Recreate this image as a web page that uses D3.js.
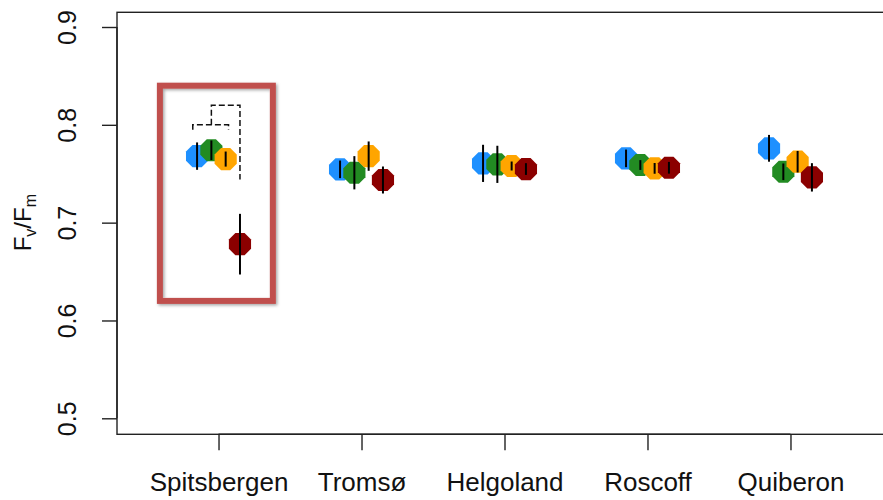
<!DOCTYPE html>
<html>
<head>
<meta charset="utf-8">
<script src="https://cdn.jsdelivr.net/npm/d3@7"></script>
<style>
  html, body { margin: 0; padding: 0; background: #fff; }
  svg { display: block; }
  text { font-family: "Liberation Sans", Arial, sans-serif; fill: #111; }
</style>
</head>
<body>
<svg id="chart" width="883" height="500"></svg>
<script>
// ---- data ----
const sites = ["Spitsbergen", "Tromsø", "Helgoland", "Roscoff", "Quiberon"];
const seriesNames = ["s1", "s2", "s3", "s4"];
const seriesColors = ["#1E90FF", "#228B22", "#FFA500", "#8B0000"];
const means = [
  [0.768, 0.774, 0.765, 0.678],   // Spitsbergen
  [0.7545, 0.751, 0.768, 0.7436], // Tromsø
  [0.7606, 0.7596, 0.7579, 0.7548], // Helgoland
  [0.7657, 0.7589, 0.7555, 0.7561], // Roscoff
  [0.776, 0.752, 0.7623, 0.7463]  // Quiberon
];
const errors = [
  [0.014, 0.010, 0.0077, 0.031],
  [0.009, 0.017, 0.015, 0.0138],
  [0.019, 0.019, 0.0046, 0.006],
  [0.009, 0.005, 0.0055, 0.006],
  [0.0137, 0.0085, 0.011, 0.0145]
];
const yTicks = [0.5, 0.6, 0.7, 0.8, 0.9];
const seriesOffsets = [-0.15, -0.05, 0.05, 0.15];
// significance brackets (Spitsbergen), in data units
const bracketSmall = { from: -0.18, to: 0.07, y: 0.800, legs: [0.795, 0.795] };
const bracketBig = { from: -0.05, to: 0.15, y: 0.820, legs: [0.800, 0.744] };
const highlight = { from: -0.41, to: 0.38, top: 0.84, bottom: 0.62 };

// ---- scales ----
const svg = d3.select("#chart");
const x = d3.scaleLinear().domain([0.29, 5.71]).range([117, 892]);
const y = d3.scaleLinear().domain([0.5, 0.9]).range([418.3, 27]);
const plotTop = 12.3, plotBottom = 434.3, plotLeft = 117, plotRight = 892;

// plot box
svg.append("rect")
  .attr("x", plotLeft).attr("y", plotTop)
  .attr("width", plotRight - plotLeft).attr("height", plotBottom - plotTop)
  .attr("fill", "none").attr("stroke", "#222").attr("stroke-width", 1.4);

// y axis
const yAxis = d3.axisLeft(y).tickValues(yTicks).tickFormat(d3.format(".1f"))
  .tickSize(15).tickPadding(0);
const gy = svg.append("g").attr("transform", `translate(${plotLeft},0)`).call(yAxis);
gy.select(".domain").attr("d", `M0,${y(0.5)}V${y(0.9)}`).attr("stroke", "#222").attr("stroke-width", 1.4);
gy.selectAll(".tick line").attr("stroke", "#222").attr("stroke-width", 1.4);
gy.selectAll(".tick text")
  .attr("x", null)
  .attr("text-anchor", "middle")
  .attr("transform", "translate(-50,0) rotate(-90)")
  .attr("dy", "0.35em")
  .style("font-size", "25px").style("font-family", "Liberation Sans, Arial, sans-serif")
  .attr("fill", "#111");

// x axis
const xAxis = d3.axisBottom(x).tickValues(d3.range(1, sites.length + 1))
  .tickFormat(i => sites[i - 1]).tickSize(16).tickPadding(0);
const gx = svg.append("g").attr("transform", `translate(0,${plotBottom})`).call(xAxis);
gx.select(".domain").attr("d", `M${x(1)},0H${x(5)}`).attr("stroke", "#222").attr("stroke-width", 1.4);
gx.selectAll(".tick line").attr("stroke", "#222").attr("stroke-width", 1.4);
gx.selectAll(".tick text")
  .attr("y", 57).attr("dy", null)
  .style("font-size", "26px").style("font-family", "Liberation Sans, Arial, sans-serif")
  .attr("fill", "#111");

// y label
const ylab = svg.append("text")
  .attr("transform", `translate(31,${y(0.7)}) rotate(-90)`)
  .attr("text-anchor", "middle")
  .style("font-size", "24px");
ylab.append("tspan").text("F");
ylab.append("tspan").text("v").attr("dy", 5).style("font-size", "16px");
ylab.append("tspan").text("/").attr("dy", -5);
ylab.append("tspan").text("F");
ylab.append("tspan").text("m").attr("dy", 5).style("font-size", "16px");

// highlight rectangle with shadow
const defs = svg.append("defs");
const f = defs.append("filter").attr("id", "shadow").attr("x", "-20%").attr("y", "-20%").attr("width", "140%").attr("height", "140%");
f.append("feDropShadow").attr("dx", 1.5).attr("dy", 1.5).attr("stdDeviation", 1.5)
  .attr("flood-color", "#000").attr("flood-opacity", 0.35);
svg.append("rect")
  .attr("x", x(1 + highlight.from)).attr("y", y(highlight.top))
  .attr("width", x(1 + highlight.to) - x(1 + highlight.from))
  .attr("height", y(highlight.bottom) - y(highlight.top))
  .attr("fill", "none").attr("stroke", "#C0504D").attr("stroke-width", 6)
  .attr("filter", "url(#shadow)");

// brackets
function bracket(b) {
  const x0 = x(1 + b.from), x1 = x(1 + b.to);
  return `M${x0},${y(b.legs[0])}V${y(b.y)}H${x1}V${y(b.legs[1])}`;
}
svg.append("path").attr("d", bracket(bracketSmall))
  .attr("fill", "none").attr("stroke", "#111").attr("stroke-width", 1.5).attr("stroke-dasharray", "6,3");
svg.append("path").attr("d", bracket(bracketBig))
  .attr("fill", "none").attr("stroke", "#111").attr("stroke-width", 1.5).attr("stroke-dasharray", "6,3");

// points
const pts = [];
sites.forEach((s, i) => seriesNames.forEach((n, j) => {
  pts.push({ site: i + 1, j, mean: means[i][j], err: errors[i][j] });
}));
const R = 12;
const oct = d3.range(8).map(k => {
  const a = Math.PI / 8 + k * Math.PI / 4;
  return [R * Math.cos(a), R * Math.sin(a)];
});
const octPath = "M" + oct.map(p => p.join(",")).join("L") + "Z";

const g = svg.append("g");
pts.forEach(p => {
  const cx = x(p.site + seriesOffsets[p.j]);
  g.append("path").attr("d", octPath)
    .attr("transform", `translate(${cx},${y(p.mean)})`)
    .attr("fill", seriesColors[p.j]);
  g.append("line")
    .attr("x1", cx).attr("x2", cx)
    .attr("y1", y(p.mean - p.err)).attr("y2", y(p.mean + p.err))
    .attr("stroke", "#000").attr("stroke-width", 2);
});
</script>
</body>
</html>
